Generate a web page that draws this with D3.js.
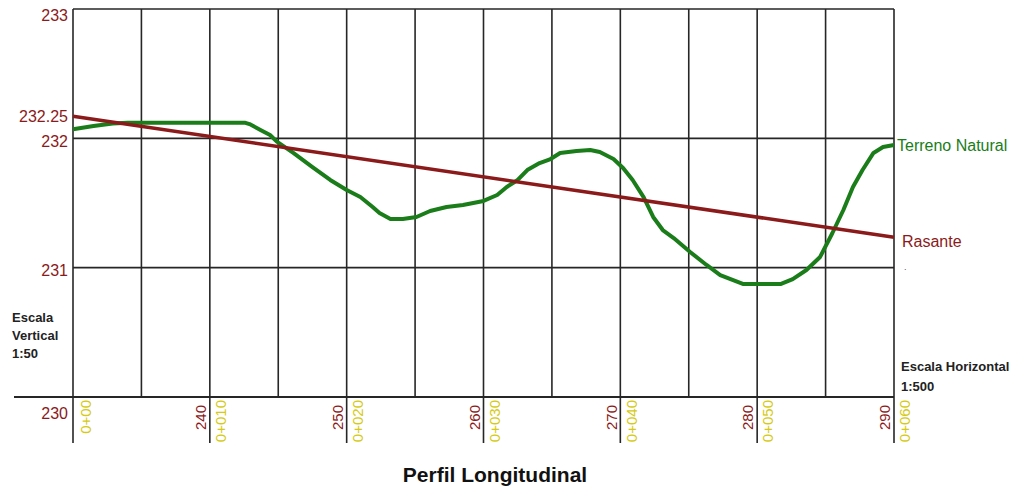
<!DOCTYPE html>
<html>
<head>
<meta charset="utf-8">
<script src="https://cdn.jsdelivr.net/npm/d3@7"></script>
<style>
  html, body { margin: 0; padding: 0; background: #ffffff; }
  svg { display: block; }
  text { font-family: "Liberation Sans", Arial, sans-serif; }
</style>
</head>
<body>
<svg id="chart" width="1016" height="488"></svg>
<script>
// ---- data ----
const terrenoStations = [0, 1.5, 2.9, 4.0, 12.6, 12.9, 13.7, 14.4, 14.9, 16.1, 17.5, 18.8, 20.0, 21.0, 21.9, 22.4, 23.2, 24.1, 25.1, 26.1, 27.3, 28.5, 30.0, 31.0, 31.7, 32.5, 33.2, 34.1, 34.9, 35.6, 36.8, 37.8, 38.5, 39.5, 40.2, 40.9, 41.7, 42.4, 43.1, 43.9, 45.1, 46.3, 47.3, 49.0, 50.0, 51.7, 52.6, 53.6, 54.6, 55.5, 56.3, 57.0, 57.7, 58.5, 59.2, 60];
const terrenoValues   = [232.07, 232.095, 232.115, 232.12, 232.12, 232.11, 232.065, 232.026, 231.974, 231.887, 231.778, 231.678, 231.60, 231.546, 231.469, 231.423, 231.376, 231.376, 231.392, 231.438, 231.469, 231.485, 231.516, 231.562, 231.624, 231.678, 231.755, 231.809, 231.84, 231.887, 231.902, 231.91, 231.894, 231.84, 231.771, 231.678, 231.546, 231.392, 231.291, 231.229, 231.121, 231.021, 230.943, 230.873, 230.873, 230.873, 230.912, 230.982, 231.083, 231.268, 231.446, 231.624, 231.755, 231.887, 231.933, 231.949];
const rasanteStations = [0, 60];
const rasanteValues   = [232.17, 231.235];
const gridStations = [0, 5, 10, 15, 20, 25, 30, 35, 40, 45, 50, 55, 60];
const majorStations = [0, 10, 20, 30, 40, 50, 60];
const stationLabels = ["0+00", "0+010", "0+020", "0+030", "0+040", "0+050", "0+060"];
const redBottomLabels = ["", "240", "250", "260", "270", "280", "290"];
const yTicks = [230, 231, 232, 233];
const yTickLabels = ["230", "231", "232", "233"];
const startLabel = "232.25";
const seriesNames = ["Terreno Natural", "Rasante"];

// ---- chart ----
const svg = d3.select("#chart");
const x = d3.scaleLinear().domain([0, 60]).range([73, 894]);
const y = d3.scaleLinear().domain([230, 233]).range([397, 9]);

const GRID = "#262626";
const RED = "#8b1a1a";
const GREEN = "#1a7d1a";
const YELLOW = "#d6ca12";

// horizontal grid lines
svg.append("g").selectAll("line")
  .data(yTicks.filter(v => v !== 230))
  .join("line")
  .attr("x1", x(0)).attr("x2", x(60))
  .attr("y1", d => y(d)).attr("y2", d => y(d))
  .attr("stroke", GRID).attr("stroke-width", 1.6);

// bottom axis line
svg.append("line")
  .attr("x1", 14).attr("x2", x(60))
  .attr("y1", y(230)).attr("y2", y(230))
  .attr("stroke", GRID).attr("stroke-width", 1.8);

// vertical grid lines
svg.append("g").selectAll("line")
  .data(gridStations)
  .join("line")
  .attr("x1", d => x(d)).attr("x2", d => x(d))
  .attr("y1", y(233))
  .attr("y2", d => majorStations.includes(d) ? 443 : y(230))
  .attr("stroke", GRID).attr("stroke-width", 1.6);

// y labels
svg.append("g").selectAll("text")
  .data(yTicks)
  .join("text")
  .attr("x", 68)
  .attr("y", d => y(d) + (d === 230 ? 16 : d === 233 ? 6 : 3))
  .attr("dy", "0.35em")
  .attr("text-anchor", "end")
  .attr("font-size", 16)
  .attr("fill", RED)
  .text((d, i) => yTickLabels[i]);

svg.append("text")
  .attr("x", 68).attr("y", y(rasanteValues[0]))
  .attr("dy", "0.35em")
  .attr("text-anchor", "end")
  .attr("font-size", 16)
  .attr("fill", RED)
  .text(startLabel);

// bottom rotated labels
const bottom = svg.append("g");
majorStations.forEach((s, i) => {
  if (redBottomLabels[i]) {
    bottom.append("text")
      .attr("transform", `translate(${x(s) - 9},405) rotate(-90)`)
      .attr("dy", "0.35em")
      .attr("text-anchor", "end")
      .attr("font-size", 15)
      .attr("fill", RED)
      .text(redBottomLabels[i]);
  }
  bottom.append("text")
    .attr("transform", `translate(${x(s) + (i === 0 ? 13 : 11)},400) rotate(-90)`)
    .attr("dy", "0.35em")
    .attr("text-anchor", "end")
    .attr("font-size", 15)
    .attr("fill", YELLOW)
    .text(stationLabels[i]);
});

// terreno natural line
const terrenoData = terrenoStations.map((s, i) => [s, terrenoValues[i]]);
svg.append("path")
  .datum(terrenoData)
  .attr("d", d3.line().x(d => x(d[0])).y(d => y(d[1])))
  .attr("fill", "none")
  .attr("stroke", GREEN)
  .attr("stroke-width", 4)
  .attr("stroke-linejoin", "round");

// rasante line
const rasanteData = rasanteStations.map((s, i) => [s, rasanteValues[i]]);
svg.append("path")
  .datum(rasanteData)
  .attr("d", d3.line().x(d => x(d[0])).y(d => y(d[1])))
  .attr("fill", "none")
  .attr("stroke", RED)
  .attr("stroke-width", 3.5);

// series labels
svg.append("text")
  .attr("x", x(60) + 3).attr("y", y(terrenoValues[terrenoValues.length - 1]))
  .attr("dy", "0.35em")
  .attr("font-size", 16)
  .attr("fill", GREEN)
  .text(seriesNames[0]);
svg.append("text")
  .attr("x", x(60) + 8).attr("y", y(rasanteValues[1]) + 4)
  .attr("dy", "0.35em")
  .attr("font-size", 16)
  .attr("fill", RED)
  .text(seriesNames[1]);
svg.append("text")
  .attr("x", 904).attr("y", 270)
  .attr("font-size", 9)
  .attr("fill", "#555")
  .text(".");

// scale notes
const vNote = svg.append("text").attr("font-size", 13).attr("font-weight", "bold").attr("fill", "#222");
["Escala", "Vertical", "1:50"].forEach((t, i) => {
  vNote.append("tspan").attr("x", 12).attr("y", 322 + i * 18).text(t);
});
const hNote = svg.append("text").attr("font-size", 13).attr("font-weight", "bold").attr("fill", "#222");
["Escala Horizontal", "1:500"].forEach((t, i) => {
  hNote.append("tspan").attr("x", 901).attr("y", 371 + i * 20).text(t);
});

// title
svg.append("text")
  .attr("x", 495).attr("y", 482)
  .attr("text-anchor", "middle")
  .attr("font-size", 21)
  .attr("font-weight", "bold")
  .attr("fill", "#111")
  .text("Perfil Longitudinal");
</script>
</body>
</html>
